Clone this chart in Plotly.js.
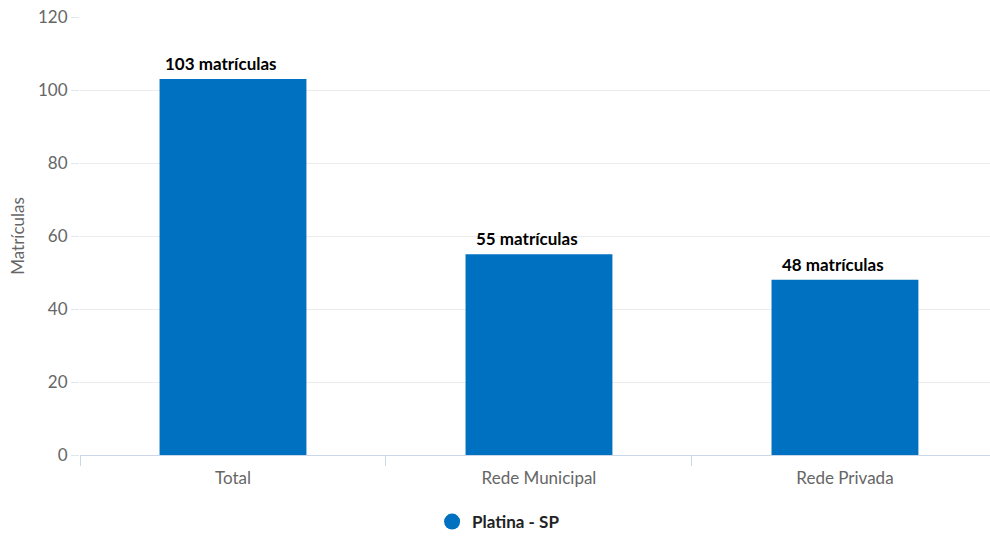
<!DOCTYPE html>
<html>
<head>
<meta charset="utf-8">
<script src="https://cdn.plot.ly/plotly-3.0.1.min.js"></script>
<style>html,body{margin:0;padding:0;background:#fff;}#chart{width:990px;height:540px;}</style>
</head>
<body>
<div id="chart"></div>
<script>
const categories = ["Total", "Rede Municipal", "Rede Privada"];
const values = [103, 55, 48];
const seriesName = "Platina - SP";
const yTicks = [0, 20, 40, 60, 80, 100, 120];
const barColor = "#0070c0";
const fontFam = "Lato, 'Open Sans', sans-serif";

const traces = [
  {
    type: "bar",
    x: categories,
    y: values,
    width: 0.48,
    marker: {color: barColor},
    showlegend: false,
    hoverinfo: "skip"
  },
  {
    type: "scatter",
    mode: "markers",
    x: [null],
    y: [null],
    name: "<b>" + seriesName + "</b>",
    marker: {color: barColor, size: 17, symbol: "circle"},
    showlegend: true
  }
];

const annotations = categories.map((c, i) => ({
  x: c,
  y: values[i],
  xref: "x",
  yref: "y",
  text: "<b>" + values[i] + " matrículas</b>",
  showarrow: false,
  yanchor: "bottom",
  xanchor: "center",
  xshift: -12,
  yshift: 3,
  font: {family: fontFam, size: 17, color: "#000"}
}));

const layout = {
  width: 990,
  height: 540,
  margin: {l: 80, r: 0, t: 17, b: 84},
  paper_bgcolor: "#fff",
  plot_bgcolor: "#fff",
  font: {family: fontFam, color: "#666"},
  annotations: annotations,
  xaxis: {
    type: "category",
    range: [-0.5, 2.474],
    tickson: "boundaries",
    ticks: "outside",
    ticklen: 10,
    tickcolor: "#ccd6eb",
    showline: true,
    linecolor: "#ccd6eb",
    linewidth: 1,
    showgrid: false,
    ticklabelstandoff: 8,
    tickfont: {family: fontFam, size: 17, color: "#666"},
    fixedrange: true
  },
  yaxis: {
    range: [0, 120],
    tickvals: yTicks,
    ticks: "outside",
    ticklen: 8,
    tickcolor: "#e0e6f0",
    gridcolor: "#ececec",
    zeroline: false,
    showline: false,
    tickfont: {family: fontFam, size: 17, color: "#666"},
    title: {text: "Matrículas", font: {family: fontFam, size: 17, color: "#666"}, standoff: 9},
    fixedrange: true
  },
  showlegend: true,
  legend: {
    orientation: "h",
    x: 0.46,
    xanchor: "center",
    y: -0.153,
    yanchor: "middle",
    font: {family: fontFam, size: 17, color: "#222"},
    itemwidth: 20
  }
};

Plotly.newPlot("chart", traces, layout, {displayModeBar: false, staticPlot: true});
</script>
</body>
</html>
